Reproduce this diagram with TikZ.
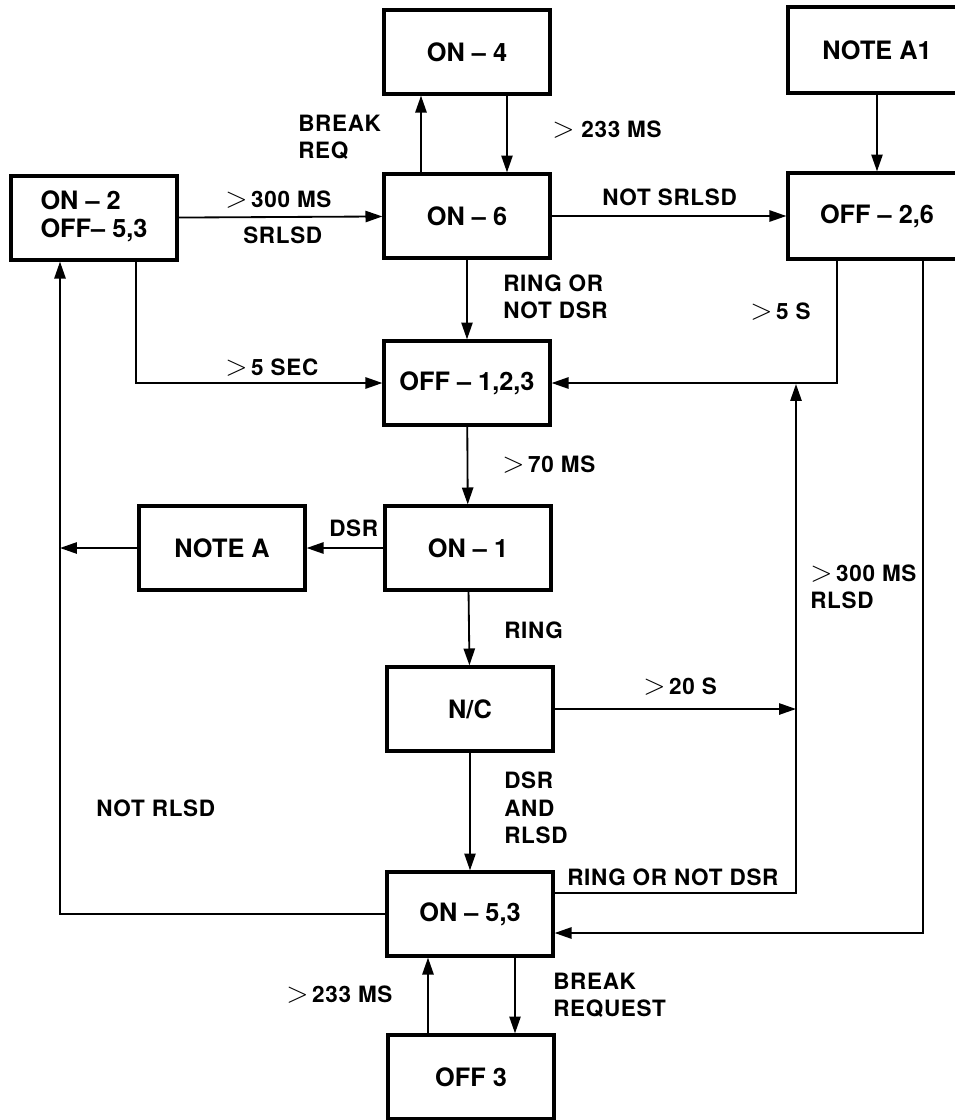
\documentclass[tikz,border=0pt]{standalone}
\usepackage{fontspec}
\setmainfont{TeX Gyre Heros}
\newfontfamily\lblfont[LetterSpace=3]{TeX Gyre Heros}
\newcommand\mygt{{\fontsize{22}{22}\selectfont$>$}}
\usetikzlibrary{arrows.meta}
\begin{document}
\begin{tikzpicture}[x=0.025cm,y=-0.025cm,
  box/.style={draw, line width=2.3pt, minimum width=4.15cm, minimum height=2.1cm,
    inner sep=0pt, font=\fontsize{18}{19.5}\selectfont\bfseries, align=center},
  wbox/.style={box, minimum width=4.45cm, minimum height=2.15cm},
  arr/.style={line width=1.3pt, -{Triangle[length=12pt,width=8pt]}},
  ln/.style={line width=1.3pt},
  lbl/.style={font=\lblfont\fontsize{16}{19.5}\selectfont\bfseries, anchor=west, align=left, inner sep=0pt}
]
\fill[white] (0,0) rectangle (955,1120);
\useasboundingbox (0,0) rectangle (955,1120);

% boxes
\node[box] (on4) at (467,52) {ON -- 4};
\node[box] (on6) at (467,216) {ON -- 6};
\node[box] (on2) at (94,218) {\begin{tabular}{@{}l@{}}ON -- 2\\OFF-- 5,3\end{tabular}};
\node[wbox] (noteA1) at (877,50) {NOTE A1};
\node[wbox] (off26) at (877,216) {OFF -- 2,6};
\node[box] (off123) at (467,383) {OFF -- 1,2,3};
\node[box] (on1) at (468,548) {ON -- 1};
\node[box] (noteA) at (222,548) {NOTE A};
\node[box] (nc) at (470,709) {N/C};
\node[box] (on53) at (470,914) {ON -- 5,3};
\node[box] (off3) at (471,1077) {OFF 3};

% helper coordinates
\coordinate (xa) at (421,0);
\coordinate (xb) at (507,0);
\coordinate (xc) at (136,0);
\coordinate (xd) at (837,0);
\coordinate (lft) at (60,548);
\coordinate (rj) at (796,384);
\coordinate (ya) at (0,893);
\coordinate (rr) at (923,933);
\coordinate (xe) at (515,0);
\coordinate (xf) at (428,0);

% connectors
\draw[arr] (on2) -- (on6);
\draw[arr] (on6.north -| xa) -- (on4.south -| xa);
\draw[arr] (on4.south -| xb) -- (on6.north -| xb);
\draw[arr] (noteA1) -- (off26);
\draw[arr] (on6) -- (off26);
\draw[arr] (on6) -- (off123);
\draw[arr] (on2.south -| xc) |- (off123.west);
\draw[arr] (off26.south -| xd) |- (off123.east);
\draw[arr] (off123) -- (on1);
\draw[arr] (on1) -- (noteA);
\draw[arr] (noteA) -- (lft);
\draw[arr] (on53.west) -| (on2.south -| lft);
\draw[arr] (on1) -- (nc);
\draw[arr] (nc.east) -- (nc.east -| rj);
\draw[arr] (on53.east |- ya) -| (rj);
\draw[arr] (off26.south -| rr) |- (on53.east |- rr);
\draw[arr] (nc) -- (on53);
\draw[arr] (on53.south -| xe) -- (off3.north -| xe);
\draw[arr] (off3.north -| xf) -- (on53.south -| xf);

% labels
\node[lbl] (l1) at (298,137) {BREAK\\REQ};
\node[lbl] (l2) at (552,130) {\mygt\ 233 MS};
\node[lbl] (l3) at (225,200) {\mygt\,300 MS};
\node[lbl] (l4) at (243,235) {SRLSD};
\node[lbl] (l5) at (602,197) {NOT SRLSD};
\node[lbl] (l6) at (503,297) {RING OR\\NOT DSR};
\node[lbl] (l7) at (750,312) {\mygt\,5 S};
\node[lbl] (l8) at (225,368) {\mygt\,5 SEC};
\node[lbl] (l9) at (502,465) {\mygt\,70 MS};
\node[lbl] (l10) at (329,528) {DSR};
\node[lbl] (l11) at (504,630) {RING};
\node[lbl] (l12) at (810,587) {\mygt\,300 MS\\RLSD};
\node[lbl] (l13) at (643,687) {\mygt\,20 S};
\node[lbl] (l14) at (96,808) {NOT RLSD};
\node[lbl] (l15) at (504,808) {DSR\\AND\\RLSD};
\node[lbl] (l16) at (567,877) {RING OR NOT DSR};
\node[lbl] (l17) at (286,995) {\mygt\,233 MS};
\node[lbl] (l18) at (553,995) {BREAK\\REQUEST};
\end{tikzpicture}
\end{document}
